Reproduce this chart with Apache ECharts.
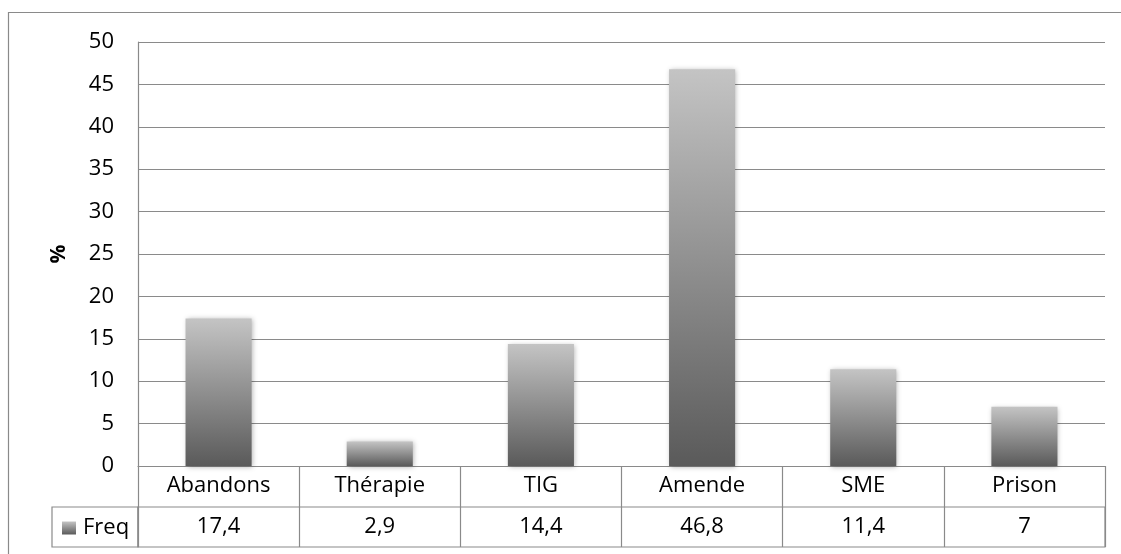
<!DOCTYPE html>
<html>
<head>
<meta charset="utf-8">
<script src="https://cdn.jsdelivr.net/npm/echarts@6/dist/echarts.min.js"></script>
<style>
html,body{margin:0;padding:0;background:#fff;overflow:hidden;}
#chart{width:1121px;height:554px;}
</style>
</head>
<body>
<div id="chart"></div>
<script>
const categories = ['Abandons', 'Thérapie', 'TIG', 'Amende', 'SME', 'Prison'];
const freqValues = [17.4, 2.9, 14.4, 46.8, 11.4, 7];
const seriesName = 'Freq';
const yTicks = { min: 0, max: 50, interval: 5 };
const yAxisTitle = '%';

const FONT = 'Open Sans';
const LINE = '#8a8a8a';
const fmt = v => String(v).replace('.', ',');

const barGradient = new echarts.graphic.LinearGradient(0, 0, 0, 1, [
  { offset: 0, color: '#c4c4c4' },
  { offset: 1, color: '#5a5a5a' }
]);

const chart = echarts.init(document.getElementById('chart'), null, { renderer: 'canvas' });
chart.setOption({
  animation: false,
  backgroundColor: '#fff',
  graphic: [{
    type: 'polyline', silent: true, z: 100,
    shape: { points: [[8.5, 554], [8.5, 12.5], [1121, 12.5]] },
    style: { fill: null, stroke: LINE, lineWidth: 1.2 }
  }],
  legend: {
    left: 57, top: 512, padding: 5,
    icon: 'rect', itemWidth: 14, itemHeight: 13, itemGap: 5,
    textStyle: { fontFamily: FONT, fontSize: 22, color: '#000', padding: [0, 0, 0, 2] },
    data: [seriesName]
  },
  grid: [
    { left: 138, right: 16, top: 42, bottom: 88, containLabel: false },
    { left: 138, right: 16, top: 507, height: 40, show: true, borderColor: LINE, borderWidth: 1.2, backgroundColor: 'transparent' },
    { left: 52, width: 86, top: 507, height: 40, show: true, borderColor: LINE, borderWidth: 1.2, backgroundColor: 'transparent' }
  ],
  xAxis: [
    {
      type: 'category', gridIndex: 0, data: categories,
      axisLine: { show: true, lineStyle: { color: LINE, width: 1.2 } },
      axisTick: { show: true, length: 41, lineStyle: { color: LINE, width: 1.2 } },
      axisLabel: { fontFamily: FONT, fontSize: 22, color: '#000', margin: 8, lineHeight: 24, interval: 0 }
    },
    {
      type: 'category', gridIndex: 1, position: 'top', data: freqValues.map(fmt),
      axisLine: { show: false }, axisTick: { show: false },
      splitLine: { show: true, interval: 0, lineStyle: { color: LINE, width: 1.2 } },
      axisLabel: { inside: true, fontFamily: FONT, fontSize: 22, color: '#000', margin: 8, lineHeight: 24, interval: 0 }
    },
    { type: 'value', gridIndex: 2, show: false }
  ],
  yAxis: [
    {
      type: 'value', gridIndex: 0, min: yTicks.min, max: yTicks.max, interval: yTicks.interval,
      name: yAxisTitle, nameLocation: 'middle', nameGap: 68, nameRotate: 90,
      nameTextStyle: { fontFamily: FONT, fontSize: 21, fontWeight: 'bold', color: '#000' },
      axisLine: { show: true, lineStyle: { color: LINE, width: 1.2 } },
      axisTick: { show: false },
      axisLabel: { fontFamily: FONT, fontSize: 22, color: '#000', margin: 24 },
      splitLine: { show: true, lineStyle: { color: LINE, width: 1.2 } }
    },
    { type: 'value', gridIndex: 1, show: false, min: 0, max: 1 },
    { type: 'value', gridIndex: 2, show: false }
  ],
  series: [{
    name: seriesName,
    type: 'bar',
    xAxisIndex: 0, yAxisIndex: 0,
    data: freqValues,
    barWidth: '41%',
    itemStyle: {
      color: barGradient,
      shadowBlur: 5, shadowColor: 'rgba(0,0,0,0.3)', shadowOffsetX: 1, shadowOffsetY: 1
    }
  }]
});
</script>
</body>
</html>
